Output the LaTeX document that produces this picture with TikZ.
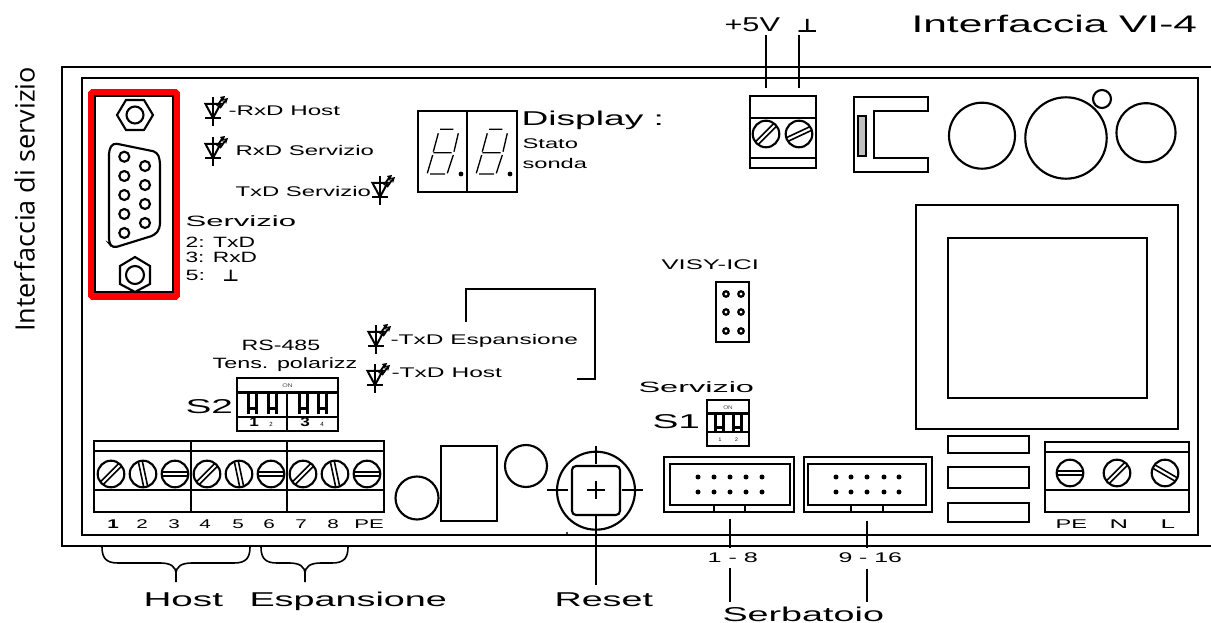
\documentclass[tikz,border=0pt]{standalone}
\usepackage{fontspec}
\usepackage{graphicx}
\setmainfont{Liberation Sans}
\newfontfamily\sidefont{Open Sans}
\newfontfamily\symfont{DejaVu Sans}
\newdimen\pxu \pxu=0.75pt
% fit text to an ink width in px, keeping its height
\newcommand{\fitw}[2]{\resizebox{\dimexpr#1\pxu+2.5\pxu\relax}{\height}{#2}}
\tikzset{
  x=0.75pt,y=-0.75pt,
  ln/.style={line width=1.6pt,black},
  thn/.style={line width=1.2pt,black},
  lbl/.style={anchor=base west,inner sep=0pt,outer sep=0pt,text=black,xshift=-1.1pt},
  ctr/.style={anchor=base,inner sep=0pt,outer sep=0pt,text=black},
  fa/.style={font=\fontsize{15}{15}\selectfont},
  fb/.style={font=\fontsize{10.5}{12}\selectfont},
  fc/.style={font=\fontsize{11.2}{12}\selectfont},
  fn/.style={font=\fontsize{9.5}{10}\selectfont},
  ft/.style={font=\fontsize{4}{4}\selectfont,text=black!70},
  pics/ledsym/.style={code={
    \draw[thn] (0,-21)--(0,8) (-8,0)--(8,0);
    \draw[line width=1.5pt] (-7.5,-14)--(7.5,-14)--(0,0)--cycle;
    \draw[line width=1.4pt] (4,-12)--(9,-19) (7,-10)--(12,-17);
    \fill (7,-21)--(12,-22)--(10,-16)--cycle;
    \fill (11,-19)--(15,-20)--(13,-14)--cycle;
  }},
  pics/screw/.style={code={
    \draw[ln] (0,0) circle (13.3);
    \begin{scope}[rotate=#1]
      \draw[thn] (-13,-2)--(13,-2) (-13,2)--(13,2);
    \end{scope}
  }},
  pics/seven/.style={code={
    \draw[line width=1pt] (440,129.3)--(453.3,129.3)
      (438.3,133.3)--(433.3,151.7) (432.7,155)--(427.3,173.3)
      (458.3,133.3)--(454,151.7) (453.3,155)--(447.3,173.3)
      (433.3,152.7)--(451.7,152.7) (430,174)--(445,174);
    \fill (461,174) circle (2.4);
  }},
  pics/swbar/.style={code={
    \draw[line width=1.1pt] (0,-10)--(0,11) (9,-10)--(9,11);
    \fill (0,-10) rectangle (2,11);
    \fill (7,-10) rectangle (9,11);
    \fill (0,4) rectangle (9,6.5);
  }},
}
\begin{document}
\begin{tikzpicture}
\useasboundingbox (0,0) rectangle (1211,623);
% frames
\draw[ln] (1211,67)--(62,67)--(62,546)--(1211,546);
\draw[ln] (82,78) rectangle (1198,535);
% service connector
\draw[line width=5.2pt,red,rounded corners=1pt] (91.5,92.5) rectangle (176.5,296.5);
\draw[ln] (95,96) rectangle (173,292);
\draw[ln] (117,115)--(126,100)--(144,100)--(153,115)--(144,130)--(126,130)--cycle;
\draw[ln] (135,115) circle (8.5);
\draw[ln] (135,257)--(150,266)--(150,284)--(135,292)--(120,284)--(120,266)--cycle;
\draw[ln] (135,275) circle (9);
\draw[ln,rounded corners=3pt] (109,150)--(113,143)--(157,152)--(160,160)--(160,228)--(155,235)--(113,248)--(109,243)--cycle;
\foreach \yy in {156.7,176,195,214,233} \draw[ln] (124.3,\yy) circle (5);
\foreach \yy in {166,185,204,223} \draw[ln] (145,\yy) circle (5);
% LEDs
\pic at (213,118) {ledsym};
\pic at (213,158) {ledsym};
\pic at (380,197) {ledsym};
\pic at (376,346) {ledsym};
\pic at (375,385) {ledsym};
\node[lbl,fb] (t1) at (230,116) {\fitw{109}{-RxD Host}};
\node[lbl,fb] (t2) at (237,156) {\fitw{136}{RxD Servizio}};
\node[lbl,fb] (t3) at (237,197) {\fitw{133}{TxD Servizio}};
\node[lbl,fc] (t4) at (187,227) {\fitw{108}{Servizio}};
\node[lbl,fc] (t5) at (187,248) {\fitw{67}{2: TxD}};
\node[lbl,fc] (t6) at (187,263) {\fitw{69}{3: RxD}};
\node[lbl,fc] (t7) at (187,281) {\fitw{17}{5:}};
\node[lbl,font=\symfont\bfseries\fontsize{12}{12}\selectfont] (t8) at (224,282) {\fitw{14}{⊥}};
% display
\draw[ln] (418,111) rectangle (517,192);
\draw[ln] (467,111)--(467,192);
\pic {seven};
\begin{scope}[xshift=36.75pt]\pic {seven};\end{scope}
\node[lbl,fa] (d1) at (523,126) {\fitw{140}{Display :}};
\node[lbl,fb] (d2) at (524,149) {\fitw{53}{Stato}};
\node[lbl,fb] (d3) at (524,169) {\fitw{62}{sonda}};
% top terminal
\draw[ln] (750,96) rectangle (816,168);
\draw[ln] (750,118)--(816,118) (750,158)--(816,158);
\pic at (766,134) {screw=45};
\pic at (799,134) {screw=25};
\draw[ln] (766,35)--(766,88) (799,35)--(799,88);
\node[lbl,fa] (v1) at (726,32) {\fitw{53}{+5V}};
\node[lbl,font=\symfont\bfseries\fontsize{14}{14}\selectfont] (v2) at (798,33) {\fitw{19}{⊥}};
\node[lbl,font=\fontsize{18}{18}\selectfont] (v3) at (913,33) {\fitw{283}{Interfaccia VI-4}};
% optocoupler
\draw[ln] (854,96.7)--(928.3,96.7)--(928.3,111)--(874,111)--(874,157.7)--(928.3,157.7)--(928.3,172)--(854,172)--cycle;
\draw[ln,fill=black!25] (857.7,115.7) rectangle (866,156);
% circles
\draw[ln] (982,135.7) circle (33);
\draw[ln] (1066,138) circle (40.7);
\draw[ln] (1102,99) circle (9);
\draw[ln] (1146,132.7) circle (29.5);
% transformer
\draw[ln] (916,205) rectangle (1178,429);
\draw[ln] (948,238) rectangle (1147,398);
% visy
\node[lbl,fb] (w1) at (663,270) {\fitw{95}{VISY-ICI}};
\draw[ln] (716,282) rectangle (749,342);
\foreach \yy in {294,312,331}{
 \draw[line width=1.7pt] (726,\yy) circle (2.7) (741,\yy) circle (2.7);
}
% bracket
\draw[ln] (466,322)--(466,289)--(595,289)--(595,379)--(577,379);
\node[lbl,fb] (e1) at (392,345) {\fitw{185}{-TxD Espansione}};
\node[lbl,fb] (e2) at (393,378) {\fitw{108}{-TxD Host}};
\node[ctr,fc] (r1) at (281,351) {\fitw{76}{RS-485}};
\node[ctr,fc] (r2) at (285,369) {\fitw{142}{Tens. polarizz}};
\node[lbl,fa] (s2) at (187,414) {\fitw{45}{S2}};
% S2
\draw[ln] (237,378) rectangle (338,431);
\draw[ln] (237,392.5)--(338,392.5) (237,417)--(338,417);
\draw[thn] (287,392)--(287,431);
\foreach \xx in {248,268,299,318}{\pic at (\xx,403.5) {swbar};}
\node[ctr,ft] (o1) at (287.5,388) {\fitw{8}{ON}};
\node[ctr,font=\bfseries\fontsize{9.5}{10}\selectfont] (n1) at (254,427) {\fitw{7}{1}};
\node[ctr,font=\fontsize{4.5}{5}\selectfont] (n2) at (271,427) {2};
\node[ctr,font=\bfseries\fontsize{9.5}{10}\selectfont] (n3) at (305,427) {\fitw{7}{3}};
\node[ctr,font=\fontsize{4.5}{5}\selectfont] (n4) at (322,427) {4};
% left terminal
\draw[ln] (94,441) rectangle (384,512);
\draw[ln] (94,451)--(384,451) (94,490)--(384,490);
\draw[line width=2pt] (191,441)--(191,512) (287,441)--(287,512);
\foreach \xx/\aa [count=\i] in {111/45,143/-78,175/0,207/45,239/-78,271/0,303/45,335/-78,367/0}{
  \pic at (\xx,474) {screw=\aa};
}
\node[ctr,font=\bfseries\fontsize{9.5}{10}\selectfont] (tn1) at (113,529) {\fitw{9}{1}};
\foreach \xx/\tt [count=\i from 2] in {142/2,174/3,205/4,238/5,269/6,301/7,333/8}{
  \node[ctr,fn] (tn\i) at (\xx,529) {\fitw{9}{\tt}};
}
\node[ctr,fn] (tn9) at (369,529) {\fitw{27}{PE}};
% left lower parts
\draw[ln] (417,498) circle (21.5);
\draw[ln] (441,446) rectangle (497,521);
\draw[ln] (526,466) circle (21);
% reset
\draw[ln] (596,490.7) circle (39);
\draw[ln,rounded corners=3pt] (572,466) rectangle (620,515);
\draw[ln] (596,446)--(596,464) (547,490)--(568,490) (622,490)--(643,490) (596,515)--(596,585);
\draw[ln] (587,490)--(605,490) (596,481)--(596,499);
\fill (567,533) circle (1.1);
% S1
\node[lbl,fc] (s3) at (640,393) {\fitw{113}{Servizio}};
\node[lbl,fa] (s4) at (654,429) {\fitw{45}{S1}};
\draw[ln] (707,400) rectangle (749,446);
\draw[ln] (707,413.5)--(749,413.5) (707,432)--(749,432);
\pic at (715,422.5) {swbar};
\pic at (733,422.5) {swbar};
\node[ctr,ft] (o2) at (728,410) {\fitw{7}{ON}};
\node[ctr,font=\fontsize{3.8}{5}\selectfont] (n5) at (720,442) {1};
\node[ctr,font=\fontsize{3.8}{5}\selectfont] (n6) at (736.5,442) {2};
% connectors
\draw[ln] (664,457) rectangle (794,512);
\draw[ln] (670,464) rectangle (790,505);
\draw[thn] (714,505)--(714,512) (745,505)--(745,512);
\foreach \xx in {698,714,730,746,762}{\fill (\xx,477) circle (2.5) (\xx,492) circle (2.5);}
\draw[ln] (804,457) rectangle (932,512);
\draw[ln] (808,464) rectangle (926,505);
\draw[thn] (851,505)--(851,512) (883,505)--(883,512);
\foreach \xx in {836,851,867,884,899}{\fill (\xx,477) circle (2.5) (\xx,492) circle (2.5);}
\draw[ln] (730,519)--(730,548) (730,568)--(730,602);
\draw[ln] (867,521)--(867,548) (867,569)--(867,602);
\node[lbl,fb] (c1) at (709,562) {\fitw{48}{1 - 8}};
\node[lbl,fb] (c2) at (840,562) {\fitw{61}{9 - 16}};
% small rectangles
\draw[ln] (948,436) rectangle (1029,453);
\draw[ln] (948,467) rectangle (1029,488);
\draw[ln] (948,503) rectangle (1029,522);
% right terminal
\draw[ln] (1045,442) rectangle (1189,512);
\draw[ln] (1045,452)--(1189,452) (1045,490)--(1189,490);
\pic at (1070,473) {screw=0};
\pic at (1117,473) {screw=45};
\pic at (1165,473) {screw=-30};
\node[lbl,fn] (p1) at (1057,529) {\fitw{29}{PE}};
\node[lbl,fn] (p2) at (1111,529) {\fitw{16}{N}};
\node[lbl,fn] (p3) at (1162,529) {\fitw{12}{L}};
% braces
\draw[thn] (102,547) .. controls (102,558) and (106,563) .. (118,563) -- (160,563)
  .. controls (170,563) and (176,566) .. (176,574) -- (176,582);
\draw[thn] (250,547) .. controls (250,558) and (246,563) .. (234,563) -- (192,563)
  .. controls (182,563) and (176,566) .. (176,574);
\draw[thn] (261,547) .. controls (261,558) and (265,563) .. (277,563) -- (289,563)
  .. controls (299,563) and (305,566) .. (305,574) -- (305,582);
\draw[thn] (348,547) .. controls (348,558) and (344,563) .. (332,563) -- (321,563)
  .. controls (311,563) and (305,566) .. (305,574);
\node[lbl,fa] (b1) at (145,606) {\fitw{77}{Host}};
\node[lbl,fa] (b2) at (251,606) {\fitw{195}{Espansione}};
\node[lbl,fa] (b3) at (556,606) {\fitw{96}{Reset}};
\node[lbl,fa] (b4) at (724,621) {\fitw{159}{Serbatoio}};
% side label
\node[anchor=base,inner sep=0pt,rotate=90,font=\sidefont\fontsize{20}{20}\selectfont] (side) at (34.5,199.5) {\resizebox{265\pxu}{\height}{Interfaccia di servizio}};
\end{tikzpicture}
\end{document}
